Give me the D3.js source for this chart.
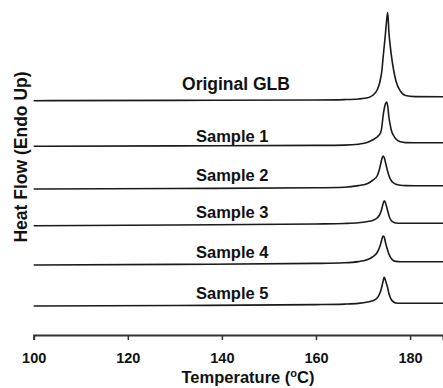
<!DOCTYPE html>
<html>
<head>
<meta charset="utf-8">
<script src="https://cdn.jsdelivr.net/npm/d3@7/dist/d3.min.js"></script>
<style>
  body { margin: 0; background: #fff; }
  svg { display: block; }
  text { font-family: "Liberation Sans", Arial, sans-serif; font-weight: bold; fill: #111; }
  .curve { fill: none; stroke: #1a1a1a; stroke-width: 1.6; }
</style>
</head>
<body>
<svg width="443" height="388"></svg>
<script>
// DSC thermograms, stacked (arbitrary heat flow units, offset per sample)
const temps = [100, 130, 160, 166, 169, 171, 172, 173, 173.5, 173.75, 174, 174.25, 174.5,
  174.75, 175, 175.25, 175.5, 175.75, 176, 176.5, 177, 178, 179, 181, 187];

const samples = ["Original GLB", "Sample 1", "Sample 2", "Sample 3", "Sample 4", "Sample 5"];

const hfOriginal = [23.53, 23.56, 23.60, 23.64, 23.70, 23.82, 24.05, 24.60, 25.25, 25.80, 26.50, 27.75, 28.95,
  30.15, 31.45, 32.35, 30.40, 29.17, 28.17, 26.60, 25.50, 24.45, 24.05, 23.94, 23.93];
const hfSample1 = [18.97, 19.01, 19.06, 19.09, 19.18, 19.37, 19.60, 19.90, 20.15, 20.35, 20.90, 21.95, 22.70,
  23.20, 23.40, 23.00, 21.90, 21.20, 20.60, 20.05, 19.70, 19.42, 19.34, 19.33, 19.33];
const hfSample2 = [14.70, 14.75, 14.82, 14.88, 15.04, 15.25, 15.55, 16.00, 16.70, 17.20, 17.70, 18.00, 17.85,
  17.40, 16.90, 16.45, 16.05, 15.75, 15.55, 15.30, 15.17, 15.07, 15.04, 15.03, 15.03];
const hfSample3 = [11.03, 11.10, 11.20, 11.25, 11.32, 11.45, 11.55, 11.80, 12.10, 12.35, 12.75, 13.20, 13.53,
  13.35, 12.95, 12.50, 12.05, 11.75, 11.55, 11.37, 11.30, 11.27, 11.27, 11.27, 11.27];
const hfSample4 = [7.10, 7.16, 7.26, 7.32, 7.44, 7.65, 7.90, 8.35, 8.85, 9.20, 9.65, 10.00, 9.90,
  9.40, 8.95, 8.55, 8.20, 7.95, 7.75, 7.53, 7.46, 7.43, 7.43, 7.43, 7.43];
const hfSample5 = [3.00, 3.05, 3.14, 3.19, 3.26, 3.40, 3.52, 3.80, 4.20, 4.50, 4.93, 5.45, 5.87,
  5.60, 5.20, 4.80, 4.25, 3.90, 3.65, 3.40, 3.30, 3.27, 3.27, 3.27, 3.27];

// where each label sits (temperature, heat flow)
const labelT = [143, 142.2, 142.2, 142.2, 142.2, 142.2];
const labelHF = [24.6, 19.43, 15.53, 11.83, 7.83, 3.67];
const labelSize = [17.5, 16.5, 16.5, 16.5, 16.5, 16.5];

const xTicks = [100, 120, 140, 160, 180];

const series = [hfOriginal, hfSample1, hfSample2, hfSample3, hfSample4, hfSample5];

const svg = d3.select("svg");

const x = d3.scaleLinear().domain([100, 187]).range([33.7, 443]);
const y = d3.scaleLinear().domain([0, 33.6]).range([336, 0]);

const line = d3.line()
  .x((d, i) => x(temps[i]))
  .y((d) => y(d))
  .curve(d3.curveMonotoneX);

svg.selectAll("path.curve")
  .data(series)
  .enter()
  .append("path")
  .attr("class", "curve")
  .attr("d", (d) => line(d));

svg.selectAll("text.label")
  .data(samples)
  .enter()
  .append("text")
  .attr("class", "label")
  .attr("x", (d, i) => x(labelT[i]))
  .attr("y", (d, i) => y(labelHF[i]))
  .attr("text-anchor", "middle")
  .style("font-size", (d, i) => labelSize[i] + "px")
  .text((d) => d);

// x axis
const xAxis = svg.append("g")
  .attr("transform", `translate(0,${y(0) - 1})`)
  .call(d3.axisBottom(x).tickValues(xTicks).tickSizeOuter(0).tickSize(5).tickPadding(12.4));

xAxis.select(".domain").attr("stroke", "#333").attr("stroke-width", 2);
xAxis.selectAll(".tick line").attr("stroke", "#333").attr("stroke-width", 1.5);
xAxis.selectAll(".tick text")
  .style("font-size", "14.5px")
  .attr("fill", "#111");

// axis titles
const xTitle = svg.append("text")
  .attr("x", 248)
  .attr("y", 383)
  .attr("text-anchor", "middle")
  .style("font-size", "16.5px");
xTitle.append("tspan").text("Temperature (");
xTitle.append("tspan").attr("baseline-shift", "super").style("font-size", "11px").text("o");
xTitle.append("tspan").text("C)");

svg.append("text")
  .attr("transform", "translate(26.5,157) rotate(-90)")
  .attr("text-anchor", "middle")
  .style("font-size", "17.5px")
  .text("Heat Flow (Endo Up)");
</script>
</body>
</html>
